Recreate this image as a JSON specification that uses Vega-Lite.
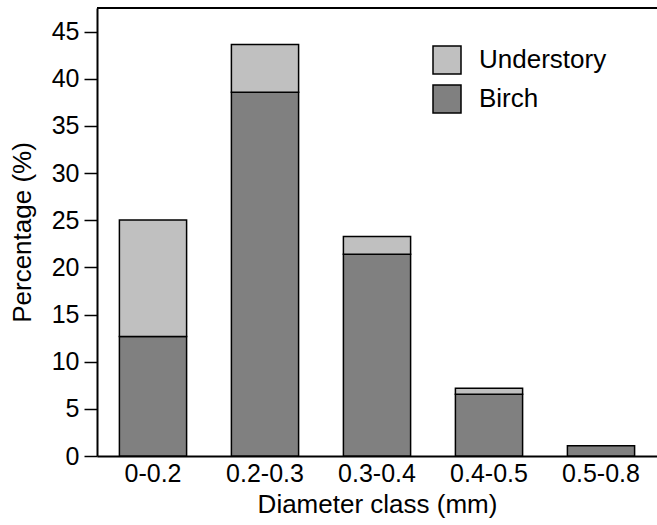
{
  "$schema": "https://vega.github.io/schema/vega-lite/v6.json",
  "autosize": {"type": "none"},
  "padding": {"left": 97, "top": 8, "right": 0, "bottom": 69},
  "width": 560,
  "height": 448,
  "config": {
    "view": {"stroke": null},
    "font": "Liberation Sans",
    "axis": {
      "labelFont": "Liberation Sans",
      "titleFont": "Liberation Sans",
      "labelColor": "black",
      "titleColor": "black",
      "domainColor": "black",
      "tickColor": "black",
      "grid": false,
      "titleFontWeight": "normal"
    },
    "legend": {"labelFont": "Liberation Sans", "labelColor": "black"}
  },
  "data": {
    "values": [
      {"diameter": "0-0.2", "series": "Birch", "value": 12.67},
      {"diameter": "0-0.2", "series": "Understory", "value": 12.35},
      {"diameter": "0.2-0.3", "series": "Birch", "value": 38.57},
      {"diameter": "0.2-0.3", "series": "Understory", "value": 5.06},
      {"diameter": "0.3-0.4", "series": "Birch", "value": 21.4},
      {"diameter": "0.3-0.4", "series": "Understory", "value": 1.88},
      {"diameter": "0.4-0.5", "series": "Birch", "value": 6.55},
      {"diameter": "0.4-0.5", "series": "Understory", "value": 0.64},
      {"diameter": "0.5-0.8", "series": "Birch", "value": 1.1}
    ]
  },
  "layer": [
    {
      "mark": {"type": "bar", "stroke": "black", "strokeWidth": 1.5},
      "encoding": {
        "x": {
          "field": "diameter",
          "type": "nominal",
          "sort": null,
          "scale": {"paddingInner": 0.4, "paddingOuter": 0.2},
          "axis": {
            "title": "Diameter class (mm)",
            "labelAngle": 0,
            "labelFontSize": 25,
            "titleFontSize": 26,
            "ticks": false,
            "labelPadding": 5,
            "titlePadding": 5,
            "domainWidth": 2
          }
        },
        "y": {
          "field": "value",
          "type": "quantitative",
          "stack": "zero",
          "scale": {"domain": [0, 47.5], "nice": false},
          "axis": {
            "title": "Percentage (%)",
            "values": [0, 5, 10, 15, 20, 25, 30, 35, 40, 45],
            "labelFontSize": 25,
            "titleFontSize": 26,
            "tickSize": 13,
            "tickWidth": 1.5,
            "labelPadding": 5,
            "titlePadding": 16,
            "domainWidth": 2
          }
        },
        "color": {
          "field": "series",
          "type": "nominal",
          "scale": {"domain": ["Understory", "Birch"], "range": ["#c0c0c0", "#808080"]},
          "legend": {
            "title": null,
            "orient": "none",
            "legendX": 335,
            "legendY": 37,
            "symbolType": "square",
            "symbolSize": 784,
            "symbolStrokeColor": "black",
            "symbolStrokeWidth": 1.5,
            "symbolOpacity": 1,
            "labelFontSize": 26,
            "labelOffset": 17,
            "rowPadding": 5
          }
        },
        "order": {"field": "series", "sort": "ascending"}
      }
    },
    {
      "mark": {"type": "rule", "color": "black", "strokeWidth": 2},
      "encoding": {"y": {"datum": 47.5}}
    }
  ]
}
